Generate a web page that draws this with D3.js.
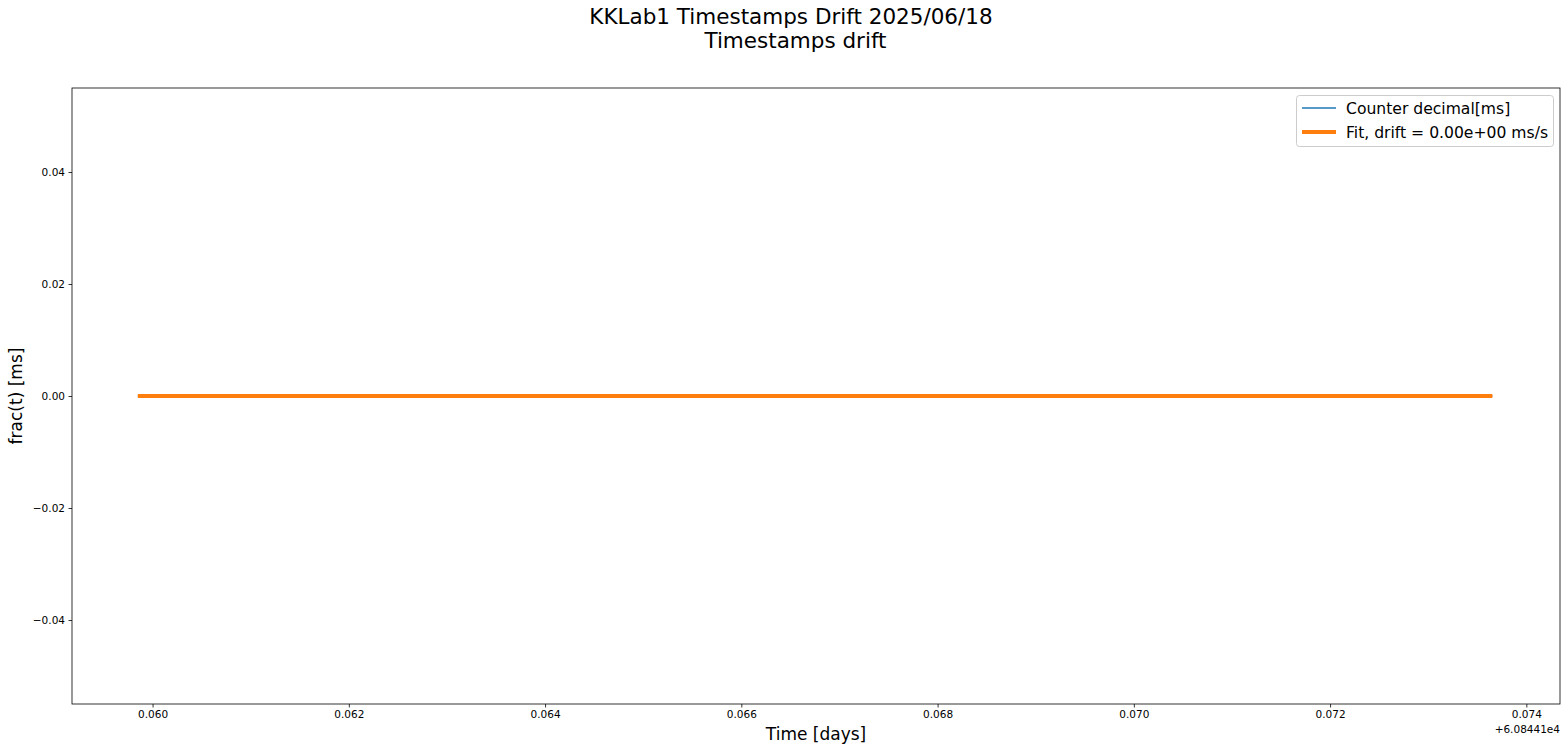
<!DOCTYPE html>
<html>
<head>
<meta charset="utf-8">
<script src="https://cdn.jsdelivr.net/npm/d3@7"></script>
<style>
body{margin:0;background:#fff;}
text{font-family:"DejaVu Sans",sans-serif;}
</style>
</head>
<body>
<svg id="c" width="1568" height="752"></svg>
<script>
// Data (x in MJD days, offset 60844.1)
const xOffset = 60844.1;
const counterTimes = [0.059850, 0.061200, 0.062600, 0.064000, 0.065400, 0.066800, 0.068200, 0.069600, 0.071000, 0.072400, 0.073654];
const counterValues = [0, 0, 0, 0, 0, 0, 0, 0, 0, 0, 0];
const fitTimes = [0.059850, 0.073654];
const fitValues = [0, 0];
const xTicks = [0.060, 0.062, 0.064, 0.066, 0.068, 0.070, 0.072, 0.074];
const yTicks = [-0.04, -0.02, 0.00, 0.02, 0.04];
const legendLabels = ["Counter decimal[ms]", "Fit, drift = 0.00e+00 ms/s"];

const svg = d3.select("#c");
const L = 72, R = 1560, T = 88, B = 704;
const x = d3.scaleLinear().domain([0.059179, 0.074343]).range([L, R]);
const y = d3.scaleLinear().domain([-0.055, 0.055]).range([B, T]);

// Title
svg.append("text").attr("x", 791).attr("y", 24).attr("text-anchor", "middle")
  .attr("font-size", 21.5).text("KKLab1 Timestamps Drift 2025/06/18");
svg.append("text").attr("x", 795.5).attr("y", 48).attr("text-anchor", "middle")
  .attr("font-size", 21.5).text("Timestamps drift");

// Axes
const xa = svg.append("g").attr("transform", `translate(0,${B})`)
  .call(d3.axisBottom(x).tickValues(xTicks).tickFormat(d3.format(".3f")).tickSizeOuter(0).tickSize(3.5).tickPadding(3.5));
const ya = svg.append("g").attr("transform", `translate(${L},0)`)
  .call(d3.axisLeft(y).tickValues(yTicks).tickFormat(d => d3.format(".2f")(d).replace("-", "\u2212")).tickSizeOuter(0).tickSize(3.5).tickPadding(3.5));
[xa, ya].forEach(a => {
  a.select(".domain").remove();
  a.selectAll("text").attr("font-size", 10.5).attr("fill", "#000").attr("font-family", "DejaVu Sans");
  a.selectAll("line").attr("stroke", "#000").attr("stroke-width", 0.8);
});

// Lines
const line = d3.line().x(d => x(d[0])).y(d => y(d[1]));
svg.append("path").datum(counterTimes.map((t, i) => [t, counterValues[i]]))
  .attr("d", line).attr("fill", "none").attr("stroke", "#1f77b4").attr("stroke-width", 1.5);
svg.append("path").datum(fitTimes.map((t, i) => [t, fitValues[i]]))
  .attr("d", line).attr("fill", "none").attr("stroke", "#ff7f0e").attr("stroke-width", 4);

// Frame
svg.append("rect").attr("x", L).attr("y", T).attr("width", R - L).attr("height", B - T)
  .attr("fill", "none").attr("stroke", "#000").attr("stroke-width", 0.8);

// Axis labels
svg.append("text").attr("x", (L + R) / 2).attr("y", 740).attr("text-anchor", "middle")
  .attr("font-size", 17).text("Time [days]");
svg.append("text").attr("transform", `translate(22,${(T + B) / 2}) rotate(-90)`)
  .attr("text-anchor", "middle").attr("font-size", 17).text("frac(t) [ms]");

// Offset text
svg.append("text").attr("x", R).attr("y", 733).attr("text-anchor", "end")
  .attr("font-size", 10.5).text("+6.08441e4");

// Legend
const lg = svg.append("g");
lg.append("rect").attr("x", 1296.5).attr("y", 95.5).attr("width", 257).attr("height", 51).attr("rx", 3)
  .attr("fill", "#fff").attr("fill-opacity", 0.8).attr("stroke", "#ccc").attr("stroke-width", 1);
const cols = ["#1f77b4", "#ff7f0e"], widths = [1.5, 4];
legendLabels.forEach((lab, i) => {
  const yy = 108 + i * 24;
  lg.append("line").attr("x1", 1302).attr("x2", 1336).attr("y1", yy).attr("y2", yy)
    .attr("stroke", cols[i]).attr("stroke-width", widths[i]);
  lg.append("text").attr("x", 1346).attr("y", yy + 5.5).attr("font-size", 15.6).text(lab);
});
</script>
</body>
</html>
